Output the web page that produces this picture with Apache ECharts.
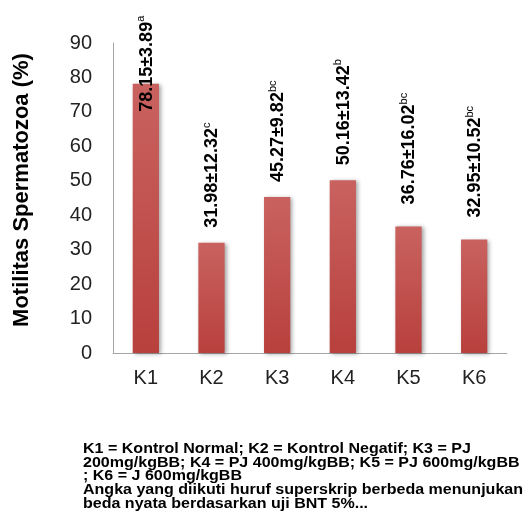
<!DOCTYPE html>
<html><head><meta charset="utf-8">
<script src="https://cdn.jsdelivr.net/npm/echarts@6/dist/echarts.min.js"></script>
<style>html,body{margin:0;padding:0;background:#fff}#c{width:526px;height:531px}</style>
</head><body><div id="c"></div>
<script>
const categories = ['K1','K2','K3','K4','K5','K6'];
const means = [78.15, 31.98, 45.27, 50.16, 36.76, 32.95];
const sds = ['3.89','12.32','9.82','13.42','16.02','10.52'];
const letters = ['a','c','bc','b','bc','bc'];
const yTicks = [0,10,20,30,40,50,60,70,80,90];
const footnote = [
  'K1 = Kontrol Normal; K2 = Kontrol Negatif; K3 = PJ',
  '200mg/kgBB; K4 = PJ 400mg/kgBB; K5 = PJ 600mg/kgBB',
  '; K6 = J 600mg/kgBB',
  'Angka yang diikuti huruf superskrip berbeda menunjukan',
  'beda nyata berdasarkan uji BNT 5%...'
];

const chart = echarts.init(document.getElementById('c'));
const data = means.map((v, i) => {
  const item = { value: v };
  if (i === 0) item.label = { distance: -28 };
  if (i >= 4) item.label = { distance: 22 };
  return item;
});
chart.setOption({
  animation: false,
  grid: { left: 113, right: 19, top: 43, bottom: 178, containLabel: false },
  xAxis: {
    type: 'category', data: categories,
    axisLine: { lineStyle: { color: '#a6a6a6', width: 1 } },
    axisTick: { show: false },
    axisLabel: { color: '#222', fontSize: 20, fontFamily: 'Liberation Sans', margin: 15 }
  },
  yAxis: {
    type: 'value', min: 0, max: 90, interval: 10,
    name: 'Motilitas Spermatozoa (%)', nameLocation: 'middle', nameGap: 80,
    nameTextStyle: { fontSize: 22, fontWeight: 'bold', color: '#000', fontFamily: 'Liberation Sans', padding: [0, 0, 0, 16] },
    axisLine: { show: true, lineStyle: { color: '#a6a6a6', width: 1 } },
    axisTick: { show: false },
    splitLine: { show: false },
    axisLabel: { color: '#222', fontSize: 20, fontFamily: 'Liberation Sans', margin: 21,
      formatter: v => yTicks.includes(v) ? String(v) : '' }
  },
  series: [{
    type: 'bar', data: data, barWidth: '40%',
    itemStyle: {
      color: new echarts.graphic.LinearGradient(0, 0, 0, 1, [
        { offset: 0, color: '#c9625f' }, { offset: 1, color: '#b8403d' }
      ]),
      shadowColor: 'rgba(0,0,0,0.35)', shadowBlur: 4, shadowOffsetX: 2, shadowOffsetY: 1
    },
    label: {
      show: true, position: 'top', rotate: 90, align: 'left', verticalAlign: 'middle', distance: 15,
      fontFamily: 'Liberation Sans',
      formatter: p => '{m|' + means[p.dataIndex].toFixed(2) + '±' + sds[p.dataIndex] + '}{s|' + letters[p.dataIndex] + '}',
      rich: {
        m: { fontSize: 18, fontWeight: 'bold', color: '#000', fontFamily: 'Liberation Sans', verticalAlign: 'bottom', lineHeight: 20 },
        s: { fontSize: 11, color: '#000', fontFamily: 'Liberation Sans', verticalAlign: 'top', lineHeight: 20 }
      }
    }
  }],
  graphic: [{
    type: 'text', left: 83, top: 442, scaleX: 1.145, originX: 0, originY: 0,
    style: { text: footnote.join('\n'), fontSize: 14, fontWeight: 'bold', lineHeight: 13.8,
      fontFamily: 'Liberation Sans', fill: '#000' }
  }]
});
</script></body></html>
